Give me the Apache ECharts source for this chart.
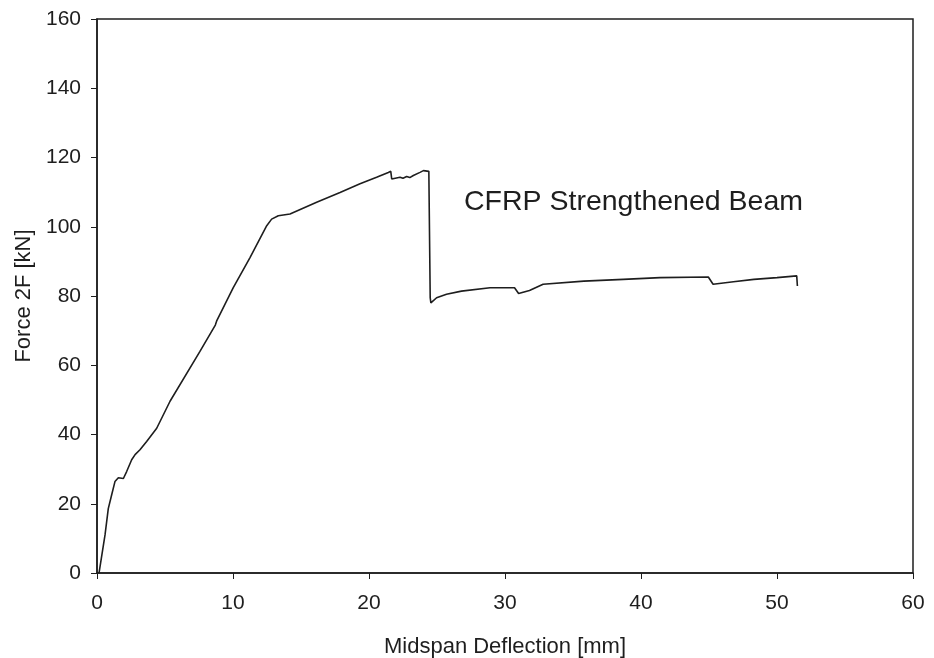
<!DOCTYPE html>
<html>
<head>
<meta charset="utf-8">
<script src="https://cdn.jsdelivr.net/npm/echarts@6/dist/echarts.min.js"></script>
<style>
  html, body { margin: 0; padding: 0; background: #fff; }
  #chart { width: 934px; height: 658px; }
</style>
</head>
<body>
<div id="chart"></div>
<script>
// Midspan deflection [mm] of the CFRP strengthened beam
const deflection = [
  0.15, 0.35, 0.59, 0.83, 1.08, 1.32, 1.57, 1.94, 2.18, 2.55, 2.8, 3.16, 3.65, 4.39, 5.37,
  7.57, 8.7, 8.8, 10.02, 11.25, 12.48, 12.84, 13.33, 14.19, 16.15, 17.87, 19.34, 20.56, 21.42, 21.6,
  21.67, 22.28, 22.5, 22.77, 23.0, 23.26, 23.75, 24.0, 24.4, 24.5, 24.55,
  24.97, 25.7, 26.8, 28.9, 30.7, 31.0, 31.8, 32.8, 35.8, 38.7, 41.4, 44.95, 45.3, 46.8, 48.3, 50.0, 51.45, 51.5
];
// Force 2F [kN]
const force = [
  0, 5, 11, 18.6, 22.6, 26.4, 27.5, 27.3, 29.3, 32.7, 34.2, 35.6, 38, 41.8, 49.6,
  64, 71.6, 72.8, 82.4, 91.1, 100.3, 102.2, 103.2, 103.7, 107.1, 109.9, 112.4, 114.3, 115.7, 116,
  113.8, 114.3, 114.0, 114.5, 114.2, 114.8, 115.7, 116.2, 116, 79.5, 78,
  79.5, 80.5, 81.4, 82.4, 82.4, 80.7, 81.6, 83.4, 84.3, 84.8, 85.3, 85.5, 83.4, 84.1, 84.8, 85.3, 85.8, 82.9
];
const xTicks = [0, 10, 20, 30, 40, 50, 60];
const yTicks = [0, 20, 40, 60, 80, 100, 120, 140, 160];
const seriesTitle = 'CFRP Strengthened Beam';

const points = deflection.map((d, i) => [d, force[i]]);
const font = 'Liberation Sans, Arial, sans-serif';
const ink = '#1e1e1e';

const chart = echarts.init(document.getElementById('chart'));
chart.setOption({
  animation: false,
  backgroundColor: '#fff',
  grid: {
    left: 97, top: 19, right: 21, bottom: 85,
    outerBoundsMode: 'none',
    show: true, borderColor: ink, borderWidth: 1.5
  },
  xAxis: {
    type: 'value',
    min: xTicks[0], max: xTicks[xTicks.length - 1], interval: 10,
    name: 'Midspan Deflection [mm]',
    nameLocation: 'middle', nameGap: 63,
    nameTextStyle: { fontFamily: font, fontSize: 22, color: ink },
    axisLine: { show: true, onZero: false, lineStyle: { color: ink, width: 1.5 } },
    axisTick: { show: true, inside: false, length: 6, lineStyle: { color: ink } },
    axisLabel: { fontFamily: font, fontSize: 21, color: ink, margin: 20 },
    splitLine: { show: false }
  },
  yAxis: {
    type: 'value',
    min: yTicks[0], max: yTicks[yTicks.length - 1], interval: 20,
    name: 'Force 2F [kN]',
    nameLocation: 'middle', nameGap: 62, nameRotate: 90,
    nameTextStyle: { fontFamily: font, fontSize: 22, color: ink },
    axisLine: { show: true, onZero: false, lineStyle: { color: ink, width: 1.5 } },
    axisTick: { show: true, inside: false, length: 6, lineStyle: { color: ink } },
    axisLabel: { fontFamily: font, fontSize: 21, color: ink, margin: 16 },
    splitLine: { show: false }
  },
  graphic: [{
    type: 'text',
    left: 464, top: 188,
    style: { text: seriesTitle, font: '28.5px ' + font, fill: ink }
  }],
  series: [{
    type: 'line',
    name: seriesTitle,
    data: points,
    showSymbol: false,
    lineStyle: { color: ink, width: 1.6 }
  }]
});
</script>
</body>
</html>
